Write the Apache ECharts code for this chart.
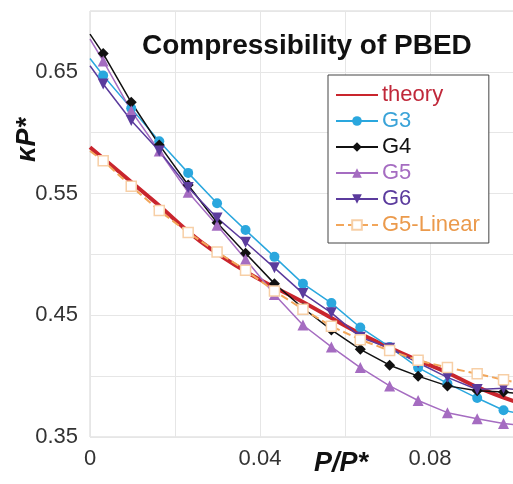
<!DOCTYPE html>
<html>
<head>
<meta charset="utf-8">
<script src="https://cdn.jsdelivr.net/npm/echarts@6/dist/echarts.min.js"></script>
<style>
html,body{margin:0;padding:0;background:#fff;overflow:hidden;}
#chart{width:513px;height:484px;}
</style>
</head>
<body>
<div id="chart"></div>
<script>
// ---- data ----
const xValues = [0, 0.0031, 0.0097, 0.0163, 0.0231, 0.0299, 0.0366, 0.0434, 0.0501, 0.0568, 0.0636, 0.0705, 0.0772, 0.0841, 0.0911, 0.0973, 0.1];
const g3 = [0.661, 0.647, 0.620, 0.593, 0.567, 0.542, 0.520, 0.498, 0.476, 0.460, 0.440, 0.424, 0.407, 0.394, 0.382, 0.372, 0.370];
const g4 = [0.681, 0.665, 0.625, 0.590, 0.557, 0.526, 0.501, 0.476, 0.456, 0.438, 0.422, 0.409, 0.400, 0.392, 0.388, 0.387, 0.386];
const g5 = [0.677, 0.659, 0.618, 0.585, 0.551, 0.524, 0.496, 0.467, 0.442, 0.424, 0.407, 0.392, 0.380, 0.370, 0.365, 0.361, 0.360];
const g6 = [0.655, 0.640, 0.610, 0.585, 0.555, 0.530, 0.510, 0.489, 0.468, 0.452, 0.432, 0.423, 0.411, 0.399, 0.389, 0.390, 0.389];
const g5Linear = [0.585, 0.577, 0.556, 0.536, 0.518, 0.502, 0.487, 0.470, 0.455, 0.441, 0.430, 0.421, 0.413, 0.407, 0.402, 0.397, 0.395];
const theoryX = [0, 0.0153, 0.0259, 0.0376, 0.0501, 0.0635, 0.0772, 0.0840, 0.0911, 0.1];
const theoryY = [0.588, 0.543, 0.511, 0.484, 0.461, 0.435, 0.413, 0.403, 0.391, 0.379];
const xTickLabels = ['0', '0.04', '0.08'];
const yTickLabels = ['0.35', '0.45', '0.55', '0.65'];
const seriesNames = ['theory', 'G3', 'G4', 'G5', 'G6', 'G5-Linear'];
const titleText = 'Compressibility of PBED';
const xName = 'P/P*';
const yName = 'κP*';

const colors = {
  'theory': '#c9252d',
  'G3': '#2aa7de',
  'G4': '#111111',
  'G5': '#a56cc1',
  'G6': '#5b3b9d',
  'G5-Linear': '#f2a65a'
};
const textColors = {
  'theory': '#c0283a',
  'G3': '#3aa3d8',
  'G4': '#111111',
  'G5': '#a56cc1',
  'G6': '#5b3b9d',
  'G5-Linear': '#eb9a4c'
};

function pts(ys) {
  return xValues.map((x, i) => {
    const item = { value: [x, ys[i]] };
    if (i === 0 || i === xValues.length - 1) item.symbol = 'none';
    return item;
  });
}

const font = 'Liberation Sans, Arial, sans-serif';
const chart = echarts.init(document.getElementById('chart'), null, { renderer: 'canvas' });

function markerSeries(name, ys, symbol, size, extra) {
  return Object.assign({
    name: name,
    type: 'line',
    data: pts(ys),
    symbol: symbol,
    symbolSize: size,
    showAllSymbol: true,
    lineStyle: { color: colors[name], width: 1.5 },
    itemStyle: { color: colors[name], borderColor: colors[name], borderWidth: 0 },
    emphasis: { disabled: true },
    animation: false
  }, extra || {});
}

const option = {
  animation: false,
  backgroundColor: '#ffffff',
  title: {
    text: titleText,
    left: 137,
    top: 27,
    textStyle: { fontFamily: font, fontSize: 28, fontWeight: 'bold', color: '#111' }
  },
  grid: {
    left: 90, top: 11, width: 440, height: 426,
    outerBoundsMode: 'none',
    containLabel: false,
    show: true, borderColor: '#d4d4d4', borderWidth: 1, backgroundColor: '#fff'
  },
  legend: {
    orient: 'vertical',
    left: 328,
    top: 75,
    padding: [8, 9, 6, 7],
    itemGap: 2,
    itemWidth: 42,
    itemHeight: 12,
    backgroundColor: '#fff',
    borderColor: '#444',
    borderWidth: 1,
    borderRadius: 0,
    selectedMode: false,
    data: seriesNames.map(n => {
      const d = { name: n, textStyle: { color: textColors[n] } };
      if (n === 'theory') d.itemStyle = { opacity: 0 };
      return d;
    }),
    textStyle: { fontFamily: font, fontSize: 22, lineHeight: 24, padding: [0, 0, 0, -1] }
  },
  xAxis: {
    type: 'value',
    min: 0, max: 440 / 4250, interval: 0.02,
    axisLine: { show: false },
    axisTick: { show: false },
    splitLine: { show: true, lineStyle: { color: '#e6e6e6', width: 1 } },
    axisLabel: {
      fontFamily: font, fontSize: 22, color: '#333', margin: 11,
      formatter: function (v) {
        const r = v / 0.02;
        const k = Math.round(r);
        if (Math.abs(r - k) > 1e-6) return '';
        if (k % 2 === 0 && k / 2 < xTickLabels.length) return xTickLabels[k / 2];
        return '';
      }
    }
  },
  yAxis: {
    type: 'value',
    min: 0.35, max: 0.70, interval: 0.05,
    axisLine: { show: false },
    axisTick: { show: false },
    splitLine: { show: true, lineStyle: { color: '#e6e6e6', width: 1 } },
    axisLabel: {
      fontFamily: font, fontSize: 22, color: '#333', margin: 12,
      formatter: function (v) {
        const k = Math.round((v - 0.35) / 0.05);
        if (k % 2 === 0 && k / 2 < yTickLabels.length) return yTickLabels[k / 2];
        return '';
      }
    }
  },
  graphic: [
    {
      type: 'text', x: 341, y: 464,
      style: { text: xName, fontFamily: font, fontSize: 27, fontWeight: 'bold', fontStyle: 'italic',
               fill: '#111', align: 'center', verticalAlign: 'middle' }
    },
    {
      type: 'text', x: 28, y: 140, rotation: Math.PI / 2,
      style: { text: yName, fontFamily: font, fontSize: 27, fontWeight: 'bold', fontStyle: 'italic',
               fill: '#111', align: 'center', verticalAlign: 'middle' }
    }
  ],
  series: [
    {
      name: 'theory',
      type: 'line',
      data: theoryX.map((x, i) => [x, theoryY[i]]),
      smooth: 0.4,
      symbol: 'none',
      lineStyle: { color: colors['theory'], width: 4 },
      itemStyle: { color: colors['theory'] },
      emphasis: { disabled: true },
      animation: false
    },
    markerSeries('G3', g3, 'circle', 10),
    markerSeries('G4', g4, 'diamond', 11),
    markerSeries('G5', g5, 'triangle', 11),
    markerSeries('G6', g6, 'triangle', 11, { symbolRotate: 180 }),
    {
      name: 'G5-Linear',
      type: 'line',
      data: pts(g5Linear),
      symbol: 'rect',
      symbolSize: 10,
      showAllSymbol: true,
      lineStyle: { color: colors['G5-Linear'], width: 2, type: [8, 4] },
      itemStyle: { color: '#ffffff', borderColor: '#f7cfa6', borderWidth: 1.5 },
      emphasis: { disabled: true },
      animation: false
    }
  ]
};
chart.setOption(option);
</script>
</body>
</html>
